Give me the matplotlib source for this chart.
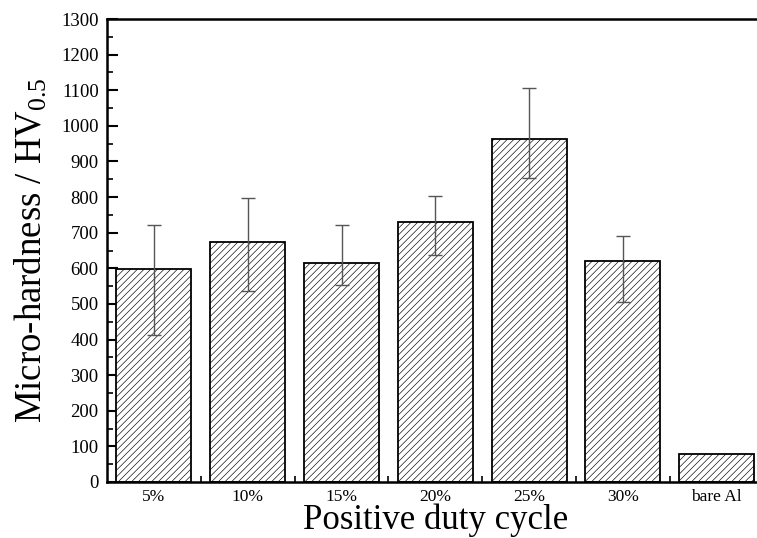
import matplotlib
matplotlib.use("Agg")
import matplotlib.pyplot as plt
import numpy as np
from matplotlib.ticker import MultipleLocator

categories = ["5%", "10%", "15%", "20%", "25%", "30%", "bare Al"]
hardness = [598, 675, 616, 731, 962, 620, 78]
err_upper = [723, 798, 721, 804, 1107, 691, None]
err_lower = [412, 535, 552, 636, 854, 504, None]

plt.rcParams['font.family'] = ['Liberation Serif', 'DejaVu Serif']
plt.rcParams['mathtext.fontset'] = 'custom'
plt.rcParams['mathtext.rm'] = 'Liberation Serif'
plt.rcParams['mathtext.it'] = 'Liberation Serif'
plt.rcParams['hatch.linewidth'] = 0.45
plt.rcParams['hatch.color'] = '#666666'

W, H = 757, 538
fig = plt.figure(figsize=(W/100, H/100), dpi=100)
x = np.arange(len(categories))
spacing = 93.8
ax = fig.add_axes([107/W, 56/H, 7*spacing/W, 463/H])

ax.bar(x, hardness, width=0.8, facecolor='white', edgecolor='black',
       linewidth=1.3, hatch='/////', zorder=2)

ex, ey, lo, hi = [], [], [], []
for i, (v, u, l) in enumerate(zip(hardness, err_upper, err_lower)):
    if u is None:
        continue
    ex.append(i); ey.append(v); lo.append(v - l); hi.append(u - v)
ax.errorbar(ex, ey, yerr=[lo, hi], fmt='none', ecolor='#555555',
            elinewidth=1.0, capsize=5, capthick=1.0, zorder=3)

ax.set_xlim(-0.5, 6.5)
ax.set_ylim(0, 1300)
ax.set_xticks(x)
ax.set_xticklabels(categories, fontsize=12.5)
ax.set_xticks(x[:-1] + 0.5, minor=True)
ax.yaxis.set_major_locator(MultipleLocator(100))
ax.yaxis.set_minor_locator(MultipleLocator(50))
ax.tick_params(axis='y', which='major', direction='in', length=8, width=1.5, labelsize=13.5, pad=6)
ax.tick_params(axis='y', which='minor', direction='in', length=4, width=1.2)
ax.tick_params(axis='x', which='major', direction='in', length=7, width=1.2, pad=5)
ax.tick_params(axis='x', which='minor', direction='in', length=4, width=1.2)

for s in ['top', 'left', 'bottom']:
    ax.spines[s].set_linewidth(1.8)
ax.spines['right'].set_visible(False)

ax.set_xlabel("Positive duty cycle", fontsize=25, labelpad=-1)
ax.set_ylabel(r"Micro-hardness / HV$_{0.5}$", fontsize=26.5, labelpad=8)

fig.savefig("out.png", dpi=100)
